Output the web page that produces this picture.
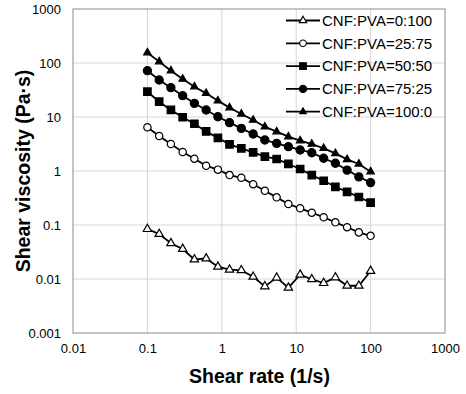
<!DOCTYPE html>
<html>
<head>
<meta charset="utf-8">
<script src="https://cdn.jsdelivr.net/npm/d3@7"></script>
<style>
  html, body { margin: 0; padding: 0; background: #fff; }
  svg { display: block; font-family: "Liberation Sans", Arial, sans-serif; }
</style>
</head>
<body>
<div id="chart"></div>
<script>
// shear rate points (1/s)
const shearRate = [0.1, 0.144, 0.207, 0.298, 0.428, 0.616, 0.886, 1.27, 1.83, 2.64,
  3.79, 5.46, 7.85, 11.3, 16.2, 23.4, 33.6, 48.3, 69.5, 100];

const visc0_100 = [0.084, 0.068, 0.046, 0.036, 0.023, 0.024, 0.0169, 0.0149, 0.0145, 0.011,
  0.0073, 0.0106, 0.0069, 0.012, 0.0099, 0.0084, 0.0107, 0.0075, 0.0075, 0.0141];
const visc25_75 = [6.45, 4.45, 3.16, 2.25, 1.69, 1.25, 1.06, 0.84, 0.75, 0.57,
  0.43, 0.325, 0.245, 0.204, 0.169, 0.139, 0.112, 0.091, 0.073, 0.063];
const visc50_50 = [29.4, 19.2, 13.5, 9.9, 7.5, 5.4, 4.1, 3.12, 2.63, 2.22,
  1.84, 1.67, 1.35, 1.09, 0.84, 0.66, 0.51, 0.41, 0.33, 0.26];
const visc75_25 = [72, 48.4, 34.9, 24.8, 17.9, 13.5, 10.1, 7.85, 6.17, 4.84,
  3.75, 3.25, 2.82, 2.45, 2.18, 1.72, 1.39, 1.04, 0.78, 0.61];
const visc100_0 = [155, 106, 72, 50.5, 36.4, 27.4, 20, 14.9, 11.4, 8.8,
  6.6, 5.35, 4.32, 3.65, 3.16, 2.63, 2.12, 1.64, 1.35, 0.97];

const seriesNames = ["CNF:PVA=0:100", "CNF:PVA=25:75", "CNF:PVA=50:50", "CNF:PVA=75:25", "CNF:PVA=100:0"];
const xTicks = [0.01, 0.1, 1, 10, 100, 1000];
const xTickLabels = ["0.01", "0.1", "1", "10", "100", "1000"];
const yTicks = [0.001, 0.01, 0.1, 1, 10, 100, 1000];
const yTickLabels = ["0.001", "0.01", "0.1", "1", "10", "100", "1000"];

const W = 466, H = 394;
const m = { left: 73, right: 21, top: 9, bottom: 61 };

const d3s = window.d3;
const svg = d3s.select("#chart").append("svg").attr("width", W).attr("height", H);

const x = d3s.scaleLog().domain([0.01, 1000]).range([m.left, W - m.right]);
const y = d3s.scaleLog().domain([0.001, 1000]).range([H - m.bottom, m.top]);

// grid
svg.append("g").selectAll("line").data(xTicks.slice(1, -1)).join("line")
  .attr("x1", d => x(d)).attr("x2", d => x(d))
  .attr("y1", m.top).attr("y2", H - m.bottom)
  .attr("stroke", "#d6d6d6").attr("stroke-width", 1);
svg.append("g").selectAll("line").data(yTicks.slice(1, -1)).join("line")
  .attr("y1", d => y(d)).attr("y2", d => y(d))
  .attr("x1", m.left).attr("x2", W - m.right)
  .attr("stroke", "#d6d6d6").attr("stroke-width", 1);

// frame
svg.append("rect")
  .attr("x", m.left).attr("y", m.top)
  .attr("width", W - m.left - m.right).attr("height", H - m.top - m.bottom)
  .attr("fill", "none").attr("stroke", "#8c8c8c").attr("stroke-width", 1);

// axes (labels only)
const xAxis = svg.append("g").attr("transform", `translate(0,${H - m.bottom})`)
  .call(d3s.axisBottom(x).tickValues(xTicks).tickFormat((d, i) => xTickLabels[i]).tickSize(0).tickPadding(11));
const yAxis = svg.append("g").attr("transform", `translate(${m.left},0)`)
  .call(d3s.axisLeft(y).tickValues(yTicks).tickFormat((d, i) => yTickLabels[i]).tickSize(0).tickPadding(12));
[xAxis, yAxis].forEach(a => {
  a.select(".domain").remove();
  a.selectAll("text").attr("fill", "#000").style("font-size", "13px")
    .style("font-family", "'Liberation Sans', Arial, sans-serif");
});

// axis titles
svg.append("text")
  .attr("x", (m.left + W - m.right) / 2 + 0.5).attr("y", 382.5)
  .attr("text-anchor", "middle")
  .style("font-size", "19.5px").style("font-weight", "bold")
  .text("Shear rate (1/s)");
svg.append("text")
  .attr("transform", `translate(30,${(m.top + H - m.bottom) / 2}) rotate(-90)`)
  .attr("text-anchor", "middle")
  .style("font-size", "19.5px").style("font-weight", "bold")
  .text("Shear viscosity (Pa·s)");

const series = [
  { name: seriesNames[0], values: visc0_100, symbol: d3s.symbolTriangle, size: 30, fill: "#fff" },
  { name: seriesNames[1], values: visc25_75, symbol: d3s.symbolCircle, size: 42, fill: "#fff" },
  { name: seriesNames[2], values: visc50_50, symbol: d3s.symbolSquare, size: 56, fill: "#000" },
  { name: seriesNames[3], values: visc75_25, symbol: d3s.symbolCircle, size: 52, fill: "#000" },
  { name: seriesNames[4], values: visc100_0, symbol: d3s.symbolTriangle, size: 24, fill: "#000" }
];

const line = d3s.line().x(d => x(d[0])).y(d => y(d[1]));

const plot = svg.append("g");
series.forEach(s => {
  const pts = shearRate.map((r, i) => [r, s.values[i]]);
  plot.append("path").datum(pts)
    .attr("d", line).attr("fill", "none")
    .attr("stroke", "#000").attr("stroke-width", 1.8);
  plot.append("g").selectAll("path").data(pts).join("path")
    .attr("transform", d => `translate(${x(d[0])},${y(d[1])})`)
    .attr("d", d3s.symbol(s.symbol, s.size))
    .attr("fill", s.fill).attr("stroke", "#000").attr("stroke-width", 1.2);
});

// legend
const legend = svg.append("g").attr("transform", "translate(286,20.5)");
series.forEach((s, i) => {
  const row = legend.append("g").attr("transform", `translate(0,${i * 22.8})`);
  row.append("line").attr("x1", 0).attr("x2", 34).attr("y1", 0).attr("y2", 0)
    .attr("stroke", "#000").attr("stroke-width", 1.8);
  row.append("path").attr("transform", "translate(17,0)")
    .attr("d", d3s.symbol(s.symbol, s.size * 0.8))
    .attr("fill", s.fill).attr("stroke", "#000").attr("stroke-width", 1.1);
  row.append("text").attr("x", 36).attr("y", 0).attr("dy", "0.35em")
    .style("font-size", "15px").text(s.name);
});
</script>
</body>
</html>
